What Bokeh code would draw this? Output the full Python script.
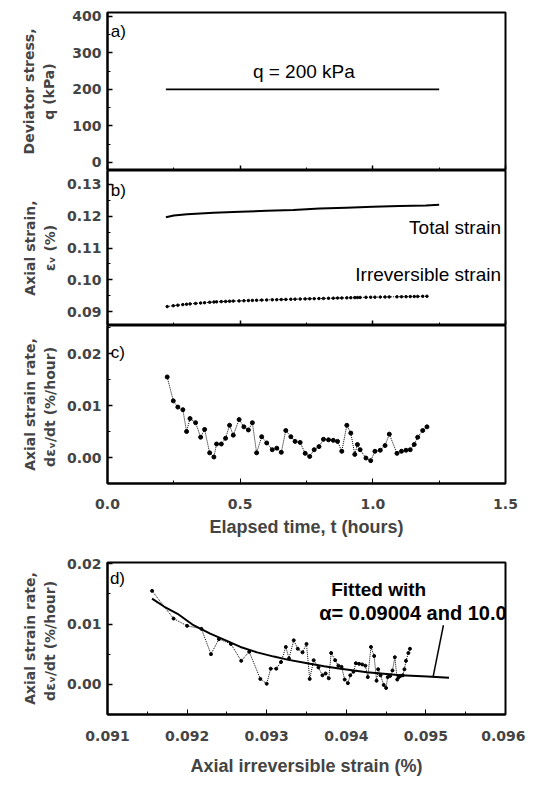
from bokeh.plotting import figure
from bokeh.layouts import column
from bokeh.models import (Range1d, SingleIntervalTicker, NumeralTickFormatter, Label,
                          CustomJSTickFormatter)
from bokeh.embed import file_html
from bokeh.resources import INLINE

# ---------------- data ----------------
q_time = [0.22, 1.25]
q_value = [200, 200]

total_time = [0.22, 0.25, 0.30, 0.35, 0.40, 0.50, 0.60, 0.70, 0.80, 0.90, 1.00, 1.10, 1.20, 1.25]
total_strain = [0.1197, 0.1202, 0.1206, 0.1209, 0.1211, 0.1214, 0.1217, 0.1220, 0.1224,
                0.1227, 0.1230, 0.1232, 0.1234, 0.1236]

elapsed = [0.225, 0.248, 0.265, 0.284, 0.298, 0.311, 0.332, 0.351, 0.366, 0.385,
           0.401, 0.411, 0.429, 0.445, 0.460, 0.474, 0.496, 0.514, 0.531, 0.546,
           0.562, 0.581, 0.600, 0.621, 0.638, 0.655, 0.672, 0.691, 0.707, 0.726,
           0.745, 0.762, 0.779, 0.797, 0.814, 0.833, 0.851, 0.867, 0.883, 0.902,
           0.917, 0.932, 0.942, 0.952, 0.974, 0.992, 1.008, 1.028, 1.046, 1.062,
           1.091, 1.108, 1.125, 1.141, 1.156, 1.169, 1.188, 1.204]
strain_rate = [0.0155, 0.0109, 0.0097, 0.0092, 0.0050, 0.0075, 0.0067, 0.0039, 0.0054, 0.0009,
               0.0001, 0.0026, 0.0026, 0.0037, 0.0062, 0.0043, 0.0073, 0.0059, 0.0053, 0.0067,
               0.0009, 0.0040, 0.0028, 0.0015, 0.0018, 0.0010, 0.0052, 0.0040, 0.0031, 0.0029,
               0.0008, 0.0002, 0.0015, 0.0021, 0.0035, 0.0034, 0.0033, 0.0031, 0.0012, 0.0062,
               0.0047, 0.0006, 0.0025, 0.0015, -0.0001, -0.0006, 0.0012, 0.0014, 0.0023, 0.0045,
               0.0008, 0.0012, 0.0014, 0.0015, 0.0025, 0.0039, 0.0052, 0.0059]
irreversible = [0.09156, 0.09183, 0.09200, 0.09218, 0.09230, 0.09240, 0.09255, 0.09268, 0.09278, 0.09292,
                0.09300, 0.09305, 0.09312, 0.09318, 0.09324, 0.09328, 0.09334, 0.09339, 0.09345, 0.09350,
                0.09354, 0.09359, 0.09365, 0.09370, 0.09374, 0.09378, 0.09381, 0.09386, 0.09390, 0.09394,
                0.09398, 0.09402, 0.09405, 0.09409, 0.09412, 0.09416, 0.09420, 0.09424, 0.09427, 0.09431,
                0.09435, 0.09438, 0.09440, 0.09443, 0.09447, 0.09450, 0.09452, 0.09455, 0.09458, 0.09461,
                0.09464, 0.09466, 0.09468, 0.09471, 0.09473, 0.09475, 0.09478, 0.09480]

fit_strain = [0.09156, 0.09171, 0.09188, 0.09208, 0.09229, 0.09250, 0.09267, 0.09288, 0.09309,
              0.09326, 0.09351, 0.09372, 0.09393, 0.09426, 0.09468, 0.09502, 0.09529]
fit_rate = [0.0142, 0.0129, 0.0117, 0.0098, 0.0084, 0.0072, 0.0062, 0.0053, 0.0046,
            0.0041, 0.0035, 0.0030, 0.0026, 0.0020, 0.0015, 0.0013, 0.0011]

pointer_strain = [0.09522, 0.09509]
pointer_rate = [0.0098, 0.0012]

# ---------------- styling helpers ----------------
TICK_FONT = "DejaVu Sans"
LABEL_FONT = "DejaVu Sans"
TITLE_FONT = "Liberation Sans"
TEXT_FONT = "Liberation Sans"

FRAME_W = 398
LEFT = 107
RIGHT = 20

time_range = Range1d(0, 1.5)


def style_common(p):
    p.grid.visible = False
    p.outline_line_color = "black"
    p.outline_line_width = 2
    p.background_fill_color = "white"
    p.border_fill_color = "white"


def style_y(p, interval, fmt, label, standoff):
    ax = p.yaxis[0]
    ax.ticker = SingleIntervalTicker(interval=interval, num_minor_ticks=2)
    ax.formatter = NumeralTickFormatter(format=fmt)
    ax.axis_line_width = 2
    ax.major_tick_in = 5
    ax.major_tick_out = 0
    ax.minor_tick_in = 3
    ax.minor_tick_out = 0
    ax.major_tick_line_width = 1.5
    ax.major_label_text_font = TICK_FONT
    ax.major_label_text_font_style = "bold"
    ax.major_label_text_font_size = "14px"
    ax.major_label_standoff = 6
    ax.axis_label = label
    ax.axis_label_text_font = LABEL_FONT
    ax.axis_label_text_font_style = "bold"
    ax.axis_label_text_font_size = "14px"
    ax.axis_label_text_line_height = 1.25
    ax.axis_label_standoff = standoff


def hide_x_labels(ax):
    ax.ticker = SingleIntervalTicker(interval=0.5, num_minor_ticks=2)
    ax.formatter = CustomJSTickFormatter(code="return '';")
    ax.axis_line_width = 2
    ax.major_tick_in = 5
    ax.major_tick_out = 0
    ax.minor_tick_in = 3
    ax.minor_tick_out = 0
    ax.major_tick_line_width = 1.5
    ax.major_label_text_font_size = "1px"
    ax.major_label_standoff = 0
    ax.axis_label = None


def panel_label(p, x, y, text):
    p.add_layout(Label(x=x, y=y, text=text, text_font=TEXT_FONT, text_font_size="17px",
                       text_baseline="top", text_align="left", text_color="black"))


# ---------------- panel a ----------------
pa = figure(frame_width=FRAME_W, frame_height=158, x_range=time_range, y_range=Range1d(-22, 410),
            output_backend="svg", toolbar_location=None,
            min_border_left=LEFT, min_border_right=RIGHT, min_border_top=12, min_border_bottom=0)
style_common(pa)
style_y(pa, 100, "0", "Deviator stress,\nq (kPa)", 12)
hide_x_labels(pa.xaxis[0])
pa.line(q_time, q_value, line_color="black", line_width=1.8)
pa.add_layout(Label(x=0.74, y=250, text="q = 200 kPa", text_font=TEXT_FONT, text_font_size="19px",
                    text_align="center", text_baseline="alphabetic", text_color="black"))
panel_label(pa, 0.012, 384, "a)")

# ---------------- panel b ----------------
pb = figure(frame_width=FRAME_W, frame_height=155, x_range=time_range, y_range=Range1d(0.0856, 0.1344),
            output_backend="svg", toolbar_location=None, x_axis_location="below",
            min_border_left=LEFT, min_border_right=RIGHT, min_border_top=0, min_border_bottom=0)
style_common(pb)
style_y(pb, 0.01, "0.00", "Axial strain,\nεᵥ (%)", 6)
hide_x_labels(pb.xaxis[0])
pb.line(total_time, total_strain, line_color="black", line_width=2)
pb.line(elapsed, irreversible, line_color="black", line_width=1, line_dash="1 1")
pb.scatter(elapsed, irreversible, size=2.5, color="black")
pb.add_layout(Label(x=1.483, y=0.1164, text="Total strain", text_font=TEXT_FONT, text_font_size="19px",
                    text_align="right", text_baseline="alphabetic", text_color="black"))
pb.add_layout(Label(x=1.483, y=0.1015, text="Irreversible strain", text_font=TEXT_FONT,
                    text_font_size="19px", text_align="right", text_baseline="alphabetic",
                    text_color="black"))
panel_label(pb, 0.012, 0.1310, "b)")

# ---------------- panel c ----------------
pc = figure(frame_width=FRAME_W, frame_height=158, x_range=time_range, y_range=Range1d(-0.005, 0.0254),
            output_backend="svg", toolbar_location=None,
            min_border_left=LEFT, min_border_right=RIGHT, min_border_top=0, min_border_bottom=69)
style_common(pc)
style_y(pc, 0.01, "0.00", "Axial strain rate,\ndεᵥ/dt  (%/hour)", 6)
xc = pc.xaxis[0]
xc.ticker = SingleIntervalTicker(interval=0.5, num_minor_ticks=2)
xc.formatter = NumeralTickFormatter(format="0.0")
xc.axis_line_width = 2
xc.major_tick_in = 5
xc.major_tick_out = 0
xc.minor_tick_in = 3
xc.minor_tick_out = 0
xc.major_label_text_font = TICK_FONT
xc.major_label_text_font_style = "bold"
xc.major_label_text_font_size = "14px"
xc.major_label_standoff = 15
xc.axis_label = "Elapsed time, t (hours)"
xc.axis_label_text_font = TITLE_FONT
xc.axis_label_text_font_style = "bold"
xc.axis_label_text_font_size = "18px"
xc.axis_label_standoff = 5
pc.line(elapsed, strain_rate, line_color="black", line_width=1, line_dash="1 1")
pc.scatter(elapsed, strain_rate, size=4, color="black")
panel_label(pc, 0.012, 0.0221, "c)")

# ---------------- panel d ----------------
pd_ = figure(frame_width=FRAME_W, frame_height=152, x_range=Range1d(0.091, 0.096),
             y_range=Range1d(-0.005, 0.0202),
             output_backend="svg", toolbar_location=None,
             min_border_left=LEFT, min_border_right=RIGHT, min_border_top=10, min_border_bottom=63)
style_common(pd_)
style_y(pd_, 0.01, "0.00", "Axial strain rate,\ndεᵥ/dt  (%/hour)", 6)
xd = pd_.xaxis[0]
xd.ticker = SingleIntervalTicker(interval=0.001, num_minor_ticks=2)
xd.formatter = NumeralTickFormatter(format="0.000")
xd.axis_line_width = 2
xd.major_tick_in = 5
xd.major_tick_out = 0
xd.minor_tick_in = 3
xd.minor_tick_out = 0
xd.major_label_text_font = TICK_FONT
xd.major_label_text_font_style = "bold"
xd.major_label_text_font_size = "14px"
xd.major_label_standoff = 16
xd.axis_label = "Axial irreversible strain (%)"
xd.axis_label_text_font = TITLE_FONT
xd.axis_label_text_font_style = "bold"
xd.axis_label_text_font_size = "18px"
xd.axis_label_standoff = 12
pd_.line(irreversible, strain_rate, line_color="black", line_width=1, line_dash="1 1")
pd_.scatter(irreversible, strain_rate, size=3, color="black")
pd_.line(fit_strain, fit_rate, line_color="black", line_width=2)
pd_.line(pointer_strain, pointer_rate, line_color="black", line_width=1.5)
pd_.add_layout(Label(x=0.09381, y=0.0157, text="Fitted with", text_font=TEXT_FONT,
                     text_font_size="19px", text_font_style="bold", text_align="left",
                     text_baseline="alphabetic", text_color="black"))
pd_.add_layout(Label(x=0.09366, y=0.0119, text="α= 0.09004 and 10.0", text_font=TEXT_FONT,
                     text_font_size="20px", text_font_style="bold", text_align="left",
                     text_baseline="alphabetic", text_color="black"))
panel_label(pd_, 0.09103, 0.0192, "d)")

layout = column(pa, pb, pc, pd_, spacing=0)
open("out.html", "w").write(file_html(layout, INLINE))
